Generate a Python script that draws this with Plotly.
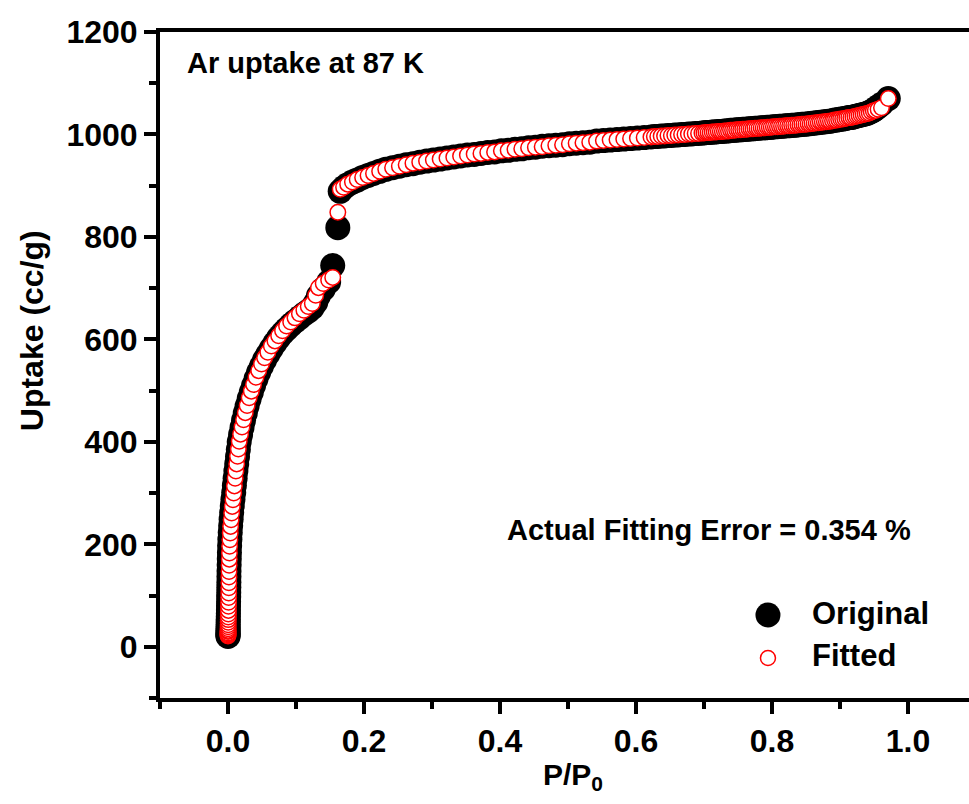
import plotly.graph_objects as go

# Relative pressure P/P0 (shared by measured and fitted isotherm)
p_rel = [
    0.00002, 0.00003, 0.00004, 0.00005, 0.00007, 0.0001, 0.00013, 0.00017, 0.00022, 0.00028,
    0.00035, 0.00043, 0.00052, 0.00062, 0.00073, 0.00085, 0.00098, 0.0011, 0.0012, 0.0013,
    0.0014, 0.0015, 0.0017, 0.0019, 0.0021, 0.0024, 0.0028, 0.0033, 0.0039, 0.0046,
    0.0054, 0.0063, 0.0073, 0.0084,
    0.0094, 0.0105, 0.0116, 0.0128, 0.0140, 0.0152, 0.0165,
    0.0185, 0.0206, 0.0229, 0.0254, 0.0281, 0.0311, 0.0343,
    0.0376, 0.0412, 0.0451, 0.0493, 0.0538, 0.0586, 0.0637, 0.0690, 0.0745,
    0.0802, 0.0861, 0.0922, 0.0985, 0.1050, 0.1116, 0.1180, 0.1240,
    0.1290, 0.1330, 0.1400, 0.1480, 0.1540, 0.1615, 0.1650,
    0.170, 0.176, 0.183, 0.190, 0.198, 0.206, 0.214, 0.223, 0.232, 0.242,
    0.252, 0.262, 0.272, 0.282, 0.292, 0.302, 0.312, 0.322, 0.332, 0.342,
    0.352, 0.362, 0.372, 0.382, 0.392, 0.402, 0.412, 0.422, 0.432, 0.442,
    0.452, 0.462, 0.472, 0.482, 0.492, 0.502, 0.512, 0.522, 0.532, 0.542,
    0.552, 0.562, 0.572, 0.582, 0.592, 0.602, 0.612, 0.622,
    0.627, 0.632, 0.637, 0.642, 0.647, 0.652, 0.657, 0.662, 0.667, 0.672,
    0.677, 0.682, 0.687, 0.692, 0.697,
    0.700, 0.703, 0.706, 0.709, 0.712, 0.715, 0.718, 0.721, 0.724, 0.727,
    0.730, 0.733, 0.736, 0.739, 0.742, 0.745, 0.748, 0.751, 0.754, 0.757,
    0.760, 0.763, 0.766, 0.769, 0.772, 0.775, 0.778, 0.781, 0.784, 0.787,
    0.790, 0.793, 0.796, 0.799, 0.802, 0.805, 0.808, 0.811, 0.814, 0.817,
    0.820, 0.823, 0.826, 0.829, 0.832, 0.835, 0.838, 0.841, 0.844, 0.847,
    0.850, 0.853, 0.856, 0.859, 0.862, 0.865, 0.868, 0.871, 0.874, 0.877,
    0.880, 0.883, 0.886, 0.889, 0.892, 0.895, 0.898, 0.901, 0.904, 0.907,
    0.910, 0.913, 0.916, 0.919, 0.922, 0.925, 0.928, 0.931, 0.934, 0.937,
    0.940, 0.943, 0.946, 0.949, 0.952, 0.956, 0.961, 0.971,
]

# Measured Ar uptake (cc/g)
uptake_original = [
    20, 22, 24, 26, 29, 32, 35, 39, 43, 48,
    53, 59, 65, 72, 80, 88, 97, 106, 116, 126,
    137, 148, 160, 172, 184, 197, 210, 223, 236, 249,
    262, 275, 288, 301,
    315, 329, 343, 357, 371, 385, 400,
    414, 428, 442, 456, 470, 484, 497,
    510, 523, 536, 548, 560, 571, 582, 593, 603,
    612, 620, 628, 635, 642, 649, 655, 662,
    672, 685, 698, 712, 744, 818, 889,
    896, 902, 907, 911, 916, 920, 924, 928, 932, 935,
    938, 941, 943, 946, 948, 950, 952, 954, 956, 958,
    960, 961, 963, 965, 966, 968, 969, 971, 972, 974,
    975, 977, 978, 979, 980, 982, 983, 984, 985, 987,
    988, 989, 990, 991, 992, 993, 994, 995,
    996, 996, 997, 997, 998, 998, 999, 999, 1000, 1000,
    1001, 1001, 1002, 1002, 1003,
    1003, 1004, 1004, 1004, 1005, 1005, 1005, 1006, 1006, 1006,
    1007, 1007, 1007, 1008, 1008, 1008, 1009, 1009, 1009, 1010,
    1010, 1010, 1011, 1011, 1011, 1012, 1012, 1012, 1013, 1013,
    1013, 1014, 1014, 1014, 1015, 1015, 1015, 1016, 1016, 1016,
    1017, 1017, 1017, 1018, 1018, 1018, 1019, 1019, 1020, 1020,
    1020, 1021, 1021, 1022, 1022, 1023, 1023, 1024, 1024, 1025,
    1025, 1026, 1026, 1027, 1028, 1028, 1029, 1030, 1030, 1031,
    1032, 1033, 1033, 1034, 1035, 1036, 1037, 1038, 1039, 1040,
    1041, 1043, 1045, 1047, 1050, 1054, 1059, 1070,
]

# Model-fitted uptake (cc/g)
uptake_fitted = [
    21, 23, 25, 27, 30, 32, 35, 39, 43, 48,
    53, 58, 64, 71, 79, 87, 96, 105, 115, 125,
    136, 147, 159, 171, 183, 196, 209, 222, 235, 248,
    261, 274, 287, 300,
    314, 329, 343, 357, 372, 386, 401,
    415, 429, 443, 457, 471, 486, 499,
    512, 526, 539, 552, 564, 575, 587, 597, 607,
    617, 626, 634, 642, 650, 657, 664, 670,
    686, 701, 709, 716, 721, 848, 893,
    897, 903, 907, 912, 916, 920, 924, 928, 932, 935,
    938, 941, 944, 946, 948, 950, 952, 954, 956, 958,
    960, 962, 963, 965, 966, 968, 969, 971, 972, 974,
    975, 976, 978, 979, 980, 982, 983, 984, 985, 987,
    988, 989, 990, 991, 992, 993, 994, 995,
    996, 996, 997, 997, 998, 998, 999, 999, 1000, 1000,
    1001, 1001, 1002, 1002, 1003,
    1003, 1004, 1004, 1004, 1005, 1005, 1005, 1006, 1006, 1006,
    1007, 1007, 1007, 1008, 1008, 1008, 1009, 1009, 1009, 1010,
    1010, 1010, 1011, 1011, 1011, 1012, 1012, 1012, 1013, 1013,
    1013, 1014, 1014, 1014, 1015, 1015, 1015, 1016, 1016, 1016,
    1017, 1017, 1017, 1018, 1018, 1018, 1019, 1019, 1020, 1020,
    1020, 1021, 1021, 1022, 1022, 1023, 1023, 1024, 1024, 1025,
    1025, 1026, 1026, 1027, 1028, 1028, 1029, 1030, 1030, 1031,
    1032, 1033, 1033, 1034, 1035, 1036, 1037, 1038, 1039, 1040,
    1041, 1042, 1044, 1046, 1047, 1049, 1052, 1070,
]

x_ticks = [0.0, 0.2, 0.4, 0.6, 0.8, 1.0]
y_ticks = [0, 200, 400, 600, 800, 1000, 1200]

FONT = "Liberation Sans, Arial, sans-serif"

fig = go.Figure()
fig.add_trace(go.Scatter(
    x=p_rel, y=uptake_original, mode="markers", name="Original",
    marker=dict(size=25, color="black", line=dict(width=0)),
    showlegend=False,
))
fig.add_trace(go.Scatter(
    x=p_rel, y=uptake_fitted, mode="markers", name="Fitted",
    marker=dict(size=15.5, color="white", line=dict(width=1.5, color="#ff0000")),
    showlegend=False,
))

axis_common = dict(
    showline=True, linewidth=4, linecolor="black",
    ticks="outside", ticklen=12, tickwidth=4, tickcolor="black",
    showgrid=False, zeroline=False,
    tickfont=dict(family=FONT, size=32, color="black", weight="bold"),
)

fig.update_xaxes(
    range=[-0.1, 1.0897], tickvals=x_ticks,
    ticktext=[f"{v:.1f}" for v in x_ticks], mirror=True,
    minor=dict(tickvals=[-0.1, 0.1, 0.3, 0.5, 0.7, 0.9], ticklen=7,
               tickwidth=4, tickcolor="black", ticks="outside"),
    **axis_common,
)
fig.update_yaxes(
    range=[-100, 1200], tickvals=y_ticks, mirror=False,
    minor=dict(tickvals=[-100, 100, 300, 500, 700, 900, 1100], ticklen=7,
               tickwidth=4, tickcolor="black", ticks="outside"),
    **axis_common,
)

def txt(text, x, y, size=30, xanchor="left", angle=0):
    fig.add_annotation(
        text=text, x=x, y=y, xref="paper", yref="paper",
        xanchor=xanchor, yanchor="middle", showarrow=False, textangle=angle,
        font=dict(family=FONT, size=size, color="black", weight="bold"),
    )

txt("Ar uptake at 87 K", 0.031, 0.953, size=29)
txt("Actual Fitting Error = 0.354 %", 0.427, 0.252, size=29)
txt("Original", 0.804, 0.127, size=31)
txt("Fitted", 0.804, 0.064, size=31)
txt("Uptake (cc/g)", -0.158, 0.551, size=32, xanchor="center", angle=-90)
txt("P/P<sub>0</sub>", 0.51, -0.118, size=30, xanchor="center")

# Legend symbols
fig.add_shape(type="circle", xref="paper", yref="paper",
              xsizemode="pixel", ysizemode="pixel",
              xanchor=0.7515, yanchor=0.1246,
              x0=-12.5, x1=12.5, y0=-12.5, y1=12.5,
              fillcolor="black", line=dict(width=0))
fig.add_shape(type="circle", xref="paper", yref="paper",
              xsizemode="pixel", ysizemode="pixel",
              xanchor=0.7515, yanchor=0.0601,
              x0=-7.5, x1=7.5, y0=-7.5, y1=7.5,
              fillcolor="white", line=dict(width=1.5, color="#ff0000"))

fig.update_layout(
    width=969, height=804,
    margin=dict(l=160, r=0, t=32, b=106),
    paper_bgcolor="white", plot_bgcolor="white",
)

fig.write_html("out.html")
